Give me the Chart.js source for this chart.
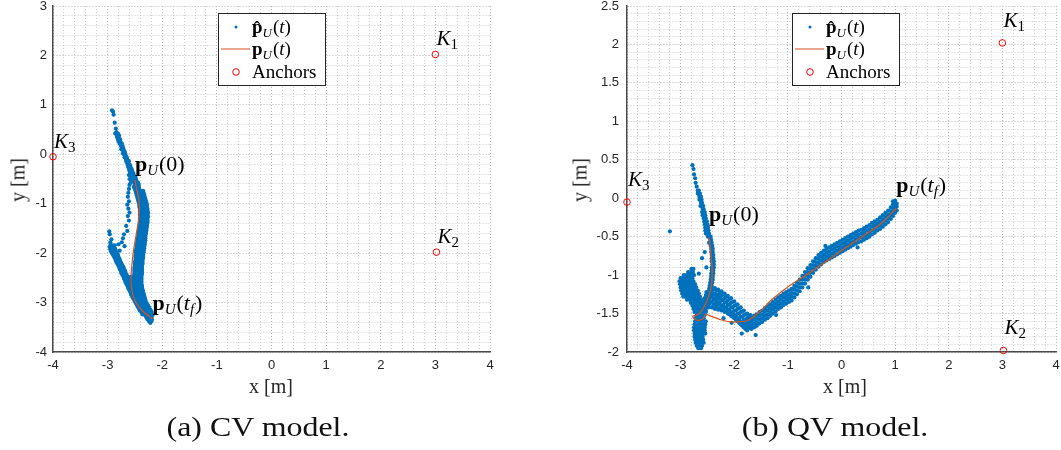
<!DOCTYPE html>
<html>
<head>
<meta charset="utf-8">
<script src="https://cdn.jsdelivr.net/npm/chart.js@4.4.0/dist/chart.umd.min.js"></script>
<style>
  body { margin: 0; background: #fff; width: 1061px; height: 450px; position: relative; overflow: hidden; font-family: "Liberation Serif", serif; color: #262626; }
  canvas { position: absolute; top: 0; }
  #cvChart { left: 0; }
  #qvChart { left: 530px; }
  .axis-title { position: absolute; font-size: 20px; white-space: nowrap; transform: translate(-50%, -50%); }
  .axis-title.vert { transform: translate(-50%, -50%) rotate(-90deg); }
  .caption { position: absolute; top: 427px; font-size: 28px; white-space: nowrap; transform: translate(-50%, -50%) scaleX(1.14); color: #111; }
</style>
</head>
<body>
<canvas id="cvChart" width="530" height="400"></canvas>
<canvas id="qvChart" width="531" height="400"></canvas>

<div class="axis-title" style="left:271px; top:386px;">x [m]</div>
<div class="axis-title vert" style="left:18px; top:180px;">y [m]</div>
<div class="axis-title" style="left:845px; top:386px;">x [m]</div>
<div class="axis-title vert" style="left:580px; top:180px;">y [m]</div>
<div class="caption" style="left:258px;">(a) CV model.</div>
<div class="caption" style="left:835px;">(b) QV model.</div>

<script>
// ---------- data ----------
// anchor positions [x, y] in metres and their indices
const anchors = [[3.0, 2.02], [3.02, -1.98], [-4.0, -0.05]];
const anchorIds = ['1', '2', '3'];

// tick labels
const cvXTicks = [-4, -3, -2, -1, 0, 1, 2, 3, 4];
const cvYTicks = [-4, -3, -2, -1, 0, 1, 2, 3];
const qvXTicks = [-4, -3, -2, -1, 0, 1, 2, 3, 4];
const qvYTicks = [-2, -1.5, -1, -0.5, 0, 0.5, 1, 1.5, 2, 2.5];

// true trajectory p_U(t), CV run
const cvTruth = [
  [-2.50, -0.52], [-2.47, -0.70], [-2.43, -0.90], [-2.42, -1.12], [-2.44, -1.38],
  [-2.48, -1.64], [-2.52, -1.90], [-2.55, -2.18], [-2.57, -2.45], [-2.57, -2.65],
  [-2.54, -2.84], [-2.47, -3.02], [-2.35, -3.18], [-2.18, -3.33]
];

// estimated positions, CV run: each row is [y, x1, x2, ...]
const cvEstRows = [
  // upper tail
  [0.89, -2.92], [0.86, -2.90], [0.80, -2.89], [0.64, -2.87], [0.52, -2.85], [0.45, -2.84],
  [0.42, -2.84, -2.81, -2.86], [0.38, -2.82, -2.79], [0.35, -2.80, -2.83], [0.30, -2.79, -2.81, -2.77],
  [0.26, -2.77, -2.80], [0.22, -2.76, -2.78, -2.74], [0.18, -2.76, -2.73], [0.14, -2.74, -2.72],
  [0.10, -2.73, -2.71, -2.75], [0.06, -2.71, -2.69], [0.02, -2.70, -2.68, -2.72], [-0.02, -2.69, -2.67],
  [-0.06, -2.67, -2.65, -2.69], [-0.10, -2.66, -2.64], [-0.14, -2.63, -2.66, -2.61], [-0.18, -2.62, -2.64],
  [-0.22, -2.61, -2.63, -2.59], [-0.26, -2.60, -2.58, -2.62], [-0.30, -2.59, -2.61, -2.56],
  [-0.34, -2.57, -2.60, -2.55], [-0.38, -2.56, -2.59, -2.53], [-0.42, -2.55, -2.58, -2.52, -2.61],
  [-0.46, -2.54, -2.57, -2.51, -2.49], [-0.50, -2.53, -2.56, -2.50, -2.48, -2.60],
  [-0.54, -2.52, -2.55, -2.49, -2.47], [-0.58, -2.51, -2.48, -2.46, -2.58, -2.44],
  [-0.62, -2.50, -2.47, -2.45, -2.60, -2.43], [-0.66, -2.48, -2.45, -2.43, -2.52],
  [-0.70, -2.47, -2.44, -2.42, -2.61, -2.50],
  // right-hand band
  [-0.74, -2.49, -2.44, -2.40, -2.35], [-0.78, -2.48, -2.43, -2.39, -2.34],
  [-0.82, -2.47, -2.42, -2.38, -2.33], [-0.86, -2.46, -2.41, -2.37, -2.32],
  [-0.90, -2.45, -2.40, -2.36, -2.31], [-0.94, -2.44, -2.39, -2.35, -2.30],
  [-0.98, -2.43, -2.38, -2.34, -2.29], [-1.02, -2.42, -2.37, -2.33, -2.28],
  [-1.06, -2.42, -2.37, -2.32, -2.28], [-1.10, -2.41, -2.36, -2.32, -2.27],
  [-1.14, -2.41, -2.36, -2.31, -2.27], [-1.18, -2.40, -2.35, -2.31, -2.26],
  [-1.22, -2.41, -2.36, -2.31, -2.27], [-1.26, -2.40, -2.35, -2.31, -2.26],
  [-1.30, -2.41, -2.36, -2.31, -2.27], [-1.34, -2.40, -2.36, -2.31, -2.27],
  [-1.38, -2.41, -2.36, -2.32, -2.27], [-1.42, -2.41, -2.37, -2.32, -2.28],
  [-1.46, -2.42, -2.37, -2.33, -2.28], [-1.50, -2.42, -2.37, -2.33, -2.29],
  [-1.54, -2.43, -2.38, -2.34, -2.29], [-1.58, -2.43, -2.38, -2.34, -2.30],
  [-1.62, -2.44, -2.39, -2.35, -2.30], [-1.66, -2.44, -2.39, -2.35, -2.31],
  [-1.70, -2.45, -2.40, -2.36, -2.31], [-1.74, -2.45, -2.40, -2.36, -2.31],
  [-1.78, -2.46, -2.41, -2.37, -2.32], [-1.82, -2.46, -2.41, -2.37, -2.32],
  [-1.86, -2.47, -2.42, -2.38, -2.33], [-1.90, -2.47, -2.42, -2.38, -2.33],
  [-1.94, -2.48, -2.43, -2.39, -2.34], [-1.98, -2.48, -2.43, -2.39, -2.34],
  [-2.02, -2.48, -2.44, -2.39, -2.35], [-2.06, -2.49, -2.44, -2.40, -2.35],
  [-2.10, -2.49, -2.44, -2.40, -2.35], [-2.14, -2.49, -2.45, -2.40, -2.36],
  [-2.18, -2.50, -2.45, -2.41, -2.36], [-2.22, -2.50, -2.45, -2.41, -2.36],
  [-2.26, -2.50, -2.46, -2.41, -2.37], [-2.30, -2.51, -2.46, -2.42, -2.37],
  [-2.34, -2.51, -2.46, -2.42, -2.37], [-2.38, -2.51, -2.46, -2.42, -2.37],
  [-2.42, -2.51, -2.47, -2.42, -2.37], [-2.46, -2.52, -2.47, -2.43, -2.38],
  [-2.50, -2.52, -2.47, -2.43, -2.38], [-2.54, -2.52, -2.48, -2.43, -2.38],
  [-2.58, -2.52, -2.48, -2.43, -2.38], [-2.62, -2.52, -2.48, -2.43, -2.38],
  [-2.66, -2.52, -2.47, -2.42, -2.37], [-2.70, -2.51, -2.47, -2.42, -2.37],
  [-2.74, -2.51, -2.46, -2.41, -2.36], [-2.78, -2.50, -2.45, -2.40, -2.35],
  [-2.82, -2.49, -2.44, -2.39, -2.34], [-2.86, -2.48, -2.43, -2.38, -2.33],
  [-2.90, -2.47, -2.42, -2.37, -2.32], [-2.94, -2.46, -2.41, -2.36, -2.31],
  [-2.98, -2.45, -2.40, -2.35, -2.30], [-3.02, -2.44, -2.38, -2.33, -2.28],
  [-3.06, -2.42, -2.36, -2.31, -2.26], [-3.10, -2.40, -2.34, -2.29, -2.24],
  [-3.14, -2.38, -2.32, -2.27, -2.22], [-3.18, -2.36, -2.30, -2.25, -2.20],
  [-3.22, -2.34, -2.28, -2.23, -2.19], [-3.26, -2.31, -2.26, -2.22, -2.18],
  [-3.30, -2.29, -2.24, -2.20], [-3.34, -2.27, -2.22, -2.19], [-3.38, -2.24, -2.20], [-3.41, -2.22],
  // left lobe
  [-1.56, -2.97], [-1.62, -2.96], [-1.72, -2.93], [-1.78, -2.95],
  [-1.84, -2.95, -2.91, -2.87], [-1.88, -2.96, -2.92, -2.88], [-1.92, -2.95, -2.90, -2.86],
  [-1.96, -2.94, -2.89, -2.85], [-2.00, -2.92, -2.88, -2.83], [-2.04, -2.90, -2.86, -2.81],
  [-2.08, -2.88, -2.84, -2.80], [-2.12, -2.86, -2.82, -2.78], [-2.16, -2.85, -2.81, -2.77],
  [-2.20, -2.83, -2.79, -2.75], [-2.24, -2.81, -2.77, -2.73], [-2.28, -2.79, -2.75, -2.71],
  [-2.32, -2.78, -2.74, -2.70], [-2.36, -2.76, -2.72, -2.68], [-2.40, -2.75, -2.71, -2.67],
  [-2.44, -2.73, -2.69, -2.65], [-2.48, -2.71, -2.67, -2.63, -2.58], [-2.52, -2.70, -2.66, -2.61, -2.57],
  [-2.56, -2.68, -2.64, -2.59, -2.55], [-2.60, -2.67, -2.62, -2.58, -2.55], [-2.64, -2.65, -2.61, -2.56],
  [-2.68, -2.63, -2.59, -2.55], [-2.72, -2.62, -2.58, -2.54], [-2.76, -2.60, -2.56, -2.52],
  [-2.80, -2.58, -2.54, -2.51], [-2.84, -2.57, -2.53], [-2.88, -2.55, -2.51], [-2.92, -2.53, -2.49],
  [-2.96, -2.51, -2.47], [-3.00, -2.49, -2.45], [-3.04, -2.47], [-3.08, -2.45], [-3.12, -2.43],
  [-3.16, -2.41], [-3.20, -2.38], [-3.24, -2.36],
  // thin strand left of the path
  [-0.78, -2.62], [-0.86, -2.63], [-0.95, -2.61], [-1.02, -2.64], [-1.10, -2.62],
  [-1.18, -2.60], [-1.25, -2.63], [-1.34, -2.61], [-1.45, -2.66], [-1.55, -2.64],
  [-1.62, -2.70], [-1.70, -2.72], [-1.78, -2.74], [-1.86, -2.69], [-1.82, -2.80], [-1.95, -2.78]
];

// true trajectory p_U(t), QV run
const qvTruth = [
  [-2.47, -0.51], [-2.43, -0.76], [-2.41, -0.97], [-2.44, -1.19], [-2.53, -1.37],
  [-2.65, -1.50], [-2.78, -1.54], [-2.68, -1.59], [-2.59, -1.57], [-2.53, -1.51],
  [-2.45, -1.53], [-2.25, -1.58], [-2.03, -1.61], [-1.75, -1.59], [-1.50, -1.46],
  [-1.32, -1.33], [-0.95, -1.13], [-0.57, -0.96], [-0.20, -0.78], [0.17, -0.60],
  [0.54, -0.43], [0.79, -0.30], [1.02, -0.13]
];

// estimated positions, QV run: rows are [y, x1, x2, ...]
const qvEstRows = [
  // upper tail
  [0.43, -2.78], [0.38, -2.76], [0.31, -2.75], [0.26, -2.73], [0.20, -2.72], [0.15, -2.70],
  [0.10, -2.68, -2.66], [0.06, -2.66, -2.64, -2.68], [0.02, -2.65, -2.62], [-0.02, -2.63, -2.61, -2.65],
  [-0.06, -2.62, -2.60], [-0.10, -2.61, -2.58, -2.63], [-0.14, -2.59, -2.57], [-0.18, -2.58, -2.55, -2.60],
  [-0.22, -2.56, -2.54, -2.59], [-0.26, -2.55, -2.53, -2.57], [-0.30, -2.54, -2.51, -2.56],
  [-0.34, -2.53, -2.50, -2.55], [-0.38, -2.52, -2.49, -2.54], [-0.42, -2.51, -2.48, -2.54],
  [-0.46, -2.50, -2.47, -2.53], [-0.43, -3.20],
  // strand below the start point
  [-0.50, -2.46, -2.44, -2.49], [-0.54, -2.45, -2.43], [-0.58, -2.44, -2.42, -2.47], [-0.62, -2.44, -2.41],
  [-0.66, -2.43, -2.40], [-0.70, -2.43, -2.40, -2.55], [-0.74, -2.42, -2.39],
  [-0.78, -2.42, -2.39, -2.60], [-0.82, -2.42, -2.38], [-0.86, -2.41, -2.38],
  [-0.90, -2.42, -2.38, -2.52], [-0.94, -2.42, -2.39], [-0.98, -2.43, -2.39, -2.66],
  [-1.02, -2.43, -2.40], [-1.06, -2.44, -2.40], [-1.10, -2.45, -2.41], [-1.14, -2.46, -2.42],
  [-1.18, -2.47, -2.43], [-1.22, -2.48, -2.44, -2.52], [-1.26, -2.49, -2.45, -2.53],
  // left cluster
  [-0.92, -2.80, -2.76], [-0.96, -2.86, -2.81, -2.77],
  [-1.00, -2.94, -2.89, -2.84, -2.79, -2.75],
  [-1.04, -3.00, -2.96, -2.92, -2.87, -2.82, -2.78],
  [-1.08, -3.02, -2.98, -2.94, -2.90, -2.85, -2.80, -2.76],
  [-1.12, -3.01, -2.97, -2.93, -2.88, -2.83, -2.78, -2.73],
  [-1.16, -3.00, -2.96, -2.91, -2.86, -2.81, -2.76, -2.71],
  [-1.20, -2.99, -2.94, -2.89, -2.84, -2.78, -2.73, -2.68],
  [-1.24, -2.97, -2.92, -2.87, -2.82, -2.76, -2.71, -2.66],
  [-1.28, -2.95, -2.90, -2.85, -2.79, -2.74, -2.69, -2.64],
  [-1.32, -2.88, -2.83, -2.77, -2.72, -2.67, -2.62],
  [-1.36, -2.81, -2.75, -2.70, -2.65, -2.60],
  [-1.40, -2.78, -2.73, -2.68, -2.63, -2.58],
  [-1.44, -2.76, -2.71, -2.66, -2.61], [-1.48, -2.74, -2.69, -2.64, -2.58, -2.53],
  // crossing
  [-1.30, -2.55, -2.50, -2.46], [-1.34, -2.56, -2.51, -2.47], [-1.38, -2.56, -2.52, -2.47],
  [-1.42, -2.57, -2.52, -2.48], [-1.46, -2.57, -2.53],
  // bottom blob
  [-1.52, -2.70, -2.65, -2.60, -2.55], [-1.56, -2.72, -2.67, -2.62, -2.57],
  [-1.60, -2.73, -2.68, -2.63, -2.58, -2.53], [-1.64, -2.74, -2.69, -2.64, -2.59, -2.54],
  [-1.68, -2.75, -2.70, -2.65, -2.60, -2.55], [-1.72, -2.75, -2.70, -2.65, -2.60, -2.55],
  [-1.76, -2.74, -2.69, -2.64, -2.59, -2.54], [-1.80, -2.74, -2.69, -2.64, -2.59],
  [-1.84, -2.73, -2.68, -2.63, -2.58], [-1.88, -2.72, -2.67, -2.62, -2.57],
  [-1.92, -2.70, -2.65, -2.60], [-1.95, -2.67, -2.62]
];

// estimated positions, QV run: columns are [x, y1, y2, ...]
const qvEstCols = [
  // hump after the crossing
  [-2.42, -1.16, -1.22, -1.28, -1.35, -1.42], [-2.39, -1.19, -1.25, -1.32, -1.39],
  [-2.36, -1.17, -1.24, -1.30, -1.37, -1.44], [-2.33, -1.20, -1.27, -1.34, -1.41],
  [-2.30, -1.19, -1.25, -1.31, -1.38, -1.45], [-2.27, -1.22, -1.29, -1.36, -1.43],
  [-2.24, -1.21, -1.27, -1.33, -1.40, -1.46], [-2.21, -1.25, -1.32, -1.39, -1.45],
  [-2.18, -1.24, -1.30, -1.36, -1.42, -1.48], [-2.15, -1.28, -1.35, -1.42, -1.47],
  [-2.12, -1.27, -1.33, -1.39, -1.45, -1.50], [-2.09, -1.31, -1.38, -1.45, -1.51],
  [-2.06, -1.30, -1.36, -1.42, -1.48, -1.53], [-2.03, -1.35, -1.42, -1.49, -1.54],
  [-2.00, -1.34, -1.40, -1.46, -1.52, -1.56], [-1.97, -1.39, -1.46, -1.53, -1.58],
  [-1.94, -1.38, -1.44, -1.50, -1.56, -1.60], [-1.91, -1.43, -1.50, -1.57, -1.62],
  [-1.88, -1.42, -1.48, -1.54, -1.60, -1.64], [-1.85, -1.47, -1.54, -1.61, -1.66],
  [-1.82, -1.46, -1.52, -1.58, -1.63, -1.68], [-1.79, -1.51, -1.58, -1.65, -1.70],
  [-1.76, -1.50, -1.56, -1.62, -1.67, -1.72], [-1.73, -1.54, -1.61, -1.67],
  [-1.70, -1.52, -1.58, -1.64, -1.69],
  // rising band to the end point
  [-1.68, -1.70, -1.65, -1.60, -1.55], [-1.63, -1.68, -1.63, -1.58, -1.53],
  [-1.58, -1.66, -1.61, -1.56, -1.51], [-1.53, -1.63, -1.58, -1.53, -1.48],
  [-1.48, -1.61, -1.56, -1.51, -1.46], [-1.43, -1.58, -1.53, -1.48, -1.43],
  [-1.38, -1.56, -1.51, -1.46, -1.41], [-1.33, -1.53, -1.48, -1.43, -1.38],
  [-1.28, -1.50, -1.45, -1.40, -1.35], [-1.23, -1.47, -1.42, -1.37, -1.32],
  [-1.18, -1.44, -1.39, -1.34, -1.29], [-1.13, -1.42, -1.37, -1.32, -1.27],
  [-1.08, -1.39, -1.34, -1.29, -1.24], [-1.03, -1.37, -1.32, -1.27, -1.22],
  [-0.98, -1.35, -1.30, -1.25, -1.20], [-0.93, -1.33, -1.28, -1.23, -1.18],
  [-0.88, -1.29, -1.24, -1.19, -1.14], [-0.83, -1.25, -1.20, -1.15, -1.10],
  [-0.78, -1.21, -1.16, -1.11, -1.06], [-0.73, -1.16, -1.11, -1.06, -1.01],
  [-0.68, -1.11, -1.06, -1.01, -0.96], [-0.63, -1.06, -1.01, -0.96, -0.91],
  [-0.58, -1.02, -0.97, -0.92, -0.87], [-0.53, -0.97, -0.92, -0.87, -0.82],
  [-0.48, -0.93, -0.88, -0.83, -0.78], [-0.43, -0.89, -0.84, -0.79, -0.74],
  [-0.38, -0.86, -0.81, -0.76, -0.71], [-0.33, -0.83, -0.78, -0.73, -0.68],
  [-0.28, -0.81, -0.76, -0.71, -0.66], [-0.23, -0.79, -0.74, -0.69, -0.64],
  [-0.18, -0.77, -0.72, -0.67, -0.62], [-0.13, -0.75, -0.70, -0.65, -0.60],
  [-0.08, -0.73, -0.68, -0.63, -0.58], [-0.03, -0.71, -0.66, -0.61, -0.56],
  [0.02, -0.69, -0.64, -0.59, -0.54], [0.07, -0.67, -0.62, -0.57, -0.52],
  [0.12, -0.65, -0.60, -0.55, -0.50], [0.17, -0.63, -0.58, -0.53, -0.48],
  [0.22, -0.61, -0.56, -0.51, -0.46], [0.27, -0.59, -0.54, -0.49, -0.44],
  [0.32, -0.57, -0.52, -0.47, -0.42], [0.37, -0.56, -0.51, -0.46, -0.41],
  [0.42, -0.54, -0.49, -0.44, -0.39], [0.47, -0.52, -0.47, -0.42, -0.37],
  [0.52, -0.50, -0.45, -0.40, -0.35], [0.57, -0.47, -0.42, -0.37, -0.32],
  [0.62, -0.45, -0.40, -0.35, -0.30], [0.67, -0.42, -0.37, -0.33, -0.28],
  [0.72, -0.40, -0.35, -0.30, -0.25], [0.77, -0.37, -0.32, -0.27, -0.22],
  [0.82, -0.34, -0.29, -0.24, -0.19], [0.87, -0.31, -0.26, -0.21, -0.16],
  [0.92, -0.27, -0.22, -0.17, -0.12], [0.96, -0.23, -0.18, -0.13, -0.08, -0.04],
  [1.00, -0.19, -0.14, -0.10, -0.06, -0.03], [1.03, -0.16, -0.11, -0.07],
  // stray points
  [-1.60, -1.78], [-1.86, -1.76], [-1.22, -1.52], [-0.62, -1.16], [0.30, -0.64],
  [-0.30, -0.62], [-2.20, -1.56], [-2.05, -1.62]
];

// ---------- helpers ----------
const BLUE = '#0072BD';
const ORANGE = '#D95319';
const SERIF = '"Liberation Serif", serif';

function rowsToPoints(rows) {
  const pts = [];
  rows.forEach(r => r.slice(1).forEach(x => pts.push({ x: x, y: r[0] })));
  return pts;
}
function colsToPoints(cols) {
  const pts = [];
  cols.forEach(c => c.slice(1).forEach(y => pts.push({ x: c[0], y: y })));
  return pts;
}
const toXY = arr => arr.map(p => ({ x: p[0], y: p[1] }));

// draw a run of text pieces with different fonts / baseline shifts
function drawMath(ctx, x, y, parts) {
  let cx = x;
  parts.forEach(p => {
    ctx.font = p.f;
    ctx.fillText(p.t, cx, y + (p.dy || 0));
    cx += ctx.measureText(p.t).width + (p.gap || 0);
  });
}
const rm = s => `${s}px ${SERIF}`;
const it = s => `italic ${s}px ${SERIF}`;
const bf = s => `bold ${s}px ${SERIF}`;

const kLabel = i => [{ t: 'K', f: it(21) }, { t: i, f: rm(15), dy: 4 }];
const startLabel = [{ t: 'p', f: bf(22) }, { t: 'U', f: it(15), dy: 4, gap: 1 }, { t: '(0)', f: rm(22) }];
const endLabel = [{ t: 'p', f: bf(22) }, { t: 'U', f: it(15), dy: 4, gap: 1 }, { t: '(', f: rm(22) },
  { t: 't', f: it(22) }, { t: 'f', f: it(15), dy: 4, gap: 1 }, { t: ')', f: rm(22) }];

function drawLegend(ctx, L, T) {
  const W = 107, H = 72;
  ctx.fillStyle = '#fff';
  ctx.fillRect(L, T, W, H);
  ctx.strokeStyle = '#262626';
  ctx.lineWidth = 1;
  ctx.strokeRect(L + 0.5, T + 0.5, W, H);

  const mx = L + 18, tx = L + 34;
  // estimate marker
  ctx.fillStyle = BLUE;
  ctx.beginPath(); ctx.arc(mx, T + 14, 1.5, 0, Math.PI * 2); ctx.fill();
  // trajectory sample
  ctx.strokeStyle = '#E4896A';
  ctx.lineWidth = 1.5;
  ctx.beginPath(); ctx.moveTo(L + 3, T + 36); ctx.lineTo(L + 32, T + 36); ctx.stroke();
  // anchor marker
  ctx.strokeStyle = '#FF0000';
  ctx.lineWidth = 1;
  ctx.beginPath(); ctx.arc(mx, T + 59, 3.3, 0, Math.PI * 2); ctx.stroke();

  ctx.fillStyle = '#000';
  drawMath(ctx, tx, T + 20, [{ t: 'p\u0302', f: bf(19) }, { t: 'U', f: it(13), dy: 4, gap: 1 },
    { t: '(', f: rm(19) }, { t: 't', f: it(19) }, { t: ')', f: rm(19) }]);
  drawMath(ctx, tx, T + 42, [{ t: 'p', f: bf(19) }, { t: 'U', f: it(13), dy: 4, gap: 1 },
    { t: '(', f: rm(19) }, { t: 't', f: it(19) }, { t: ')', f: rm(19) }]);
  drawMath(ctx, tx, T + 65, [{ t: 'Anchors', f: rm(19) }]);
}

// labels for anchors, start/end points and the legend box
const annotate = {
  id: 'annotate',
  afterDraw(chart, args, opts) {
    const { ctx, chartArea } = chart;
    const xs = chart.scales.x, ys = chart.scales.y;
    ctx.save();
    ctx.fillStyle = '#000';
    ctx.textBaseline = 'alphabetic';
    anchors.forEach((a, i) => {
      drawMath(ctx, xs.getPixelForValue(a[0]) + 1, ys.getPixelForValue(a[1]) - opts.lift, kLabel(anchorIds[i]));
    });
    const first = opts.path[0], last = opts.path[opts.path.length - 1];
    drawMath(ctx, xs.getPixelForValue(first[0]), ys.getPixelForValue(first[1]) - opts.lift, startLabel);
    drawMath(ctx, xs.getPixelForValue(last[0]), ys.getPixelForValue(last[1]) - opts.lift, endLabel);
    drawLegend(ctx, chartArea.left + 165, chartArea.top + 7);
    ctx.restore();
  }
};

const isMember = (v, list) => list.some(t => Math.abs(t - v) < 1e-6);

function axis(min, max, step, labels, size, padding) {
  return {
    type: 'linear',
    min: min,
    max: max,
    ticks: {
      stepSize: step,
      autoSkip: false,
      maxRotation: 0,
      padding: padding,
      color: '#262626',
      font: { family: '"Liberation Sans", Arial, sans-serif', size: 13 },
      callback: v => (isMember(v, labels) ? String(Math.round(v * 10) / 10) : '')
    },
    grid: {
      drawTicks: false,
      lineWidth: 1,
      color: c => (isMember(c.tick.value, labels) ? '#b4b4b4' : '#cdcdcd')
    },
    border: { display: true, color: '#4a4a4a', width: 1.5, dash: [1, 2] },
    afterFit: s => {
      if (s.isHorizontal()) s.height = size; else s.width = size;
      s.paddingLeft = s.paddingRight = s.paddingTop = s.paddingBottom = 0;
    }
  };
}

function makeChart(id, est, truth, xr, yr, padRight, yWidth, lift) {
  return new Chart(document.getElementById(id), {
    type: 'scatter',
    data: {
      datasets: [
        {
          label: 'Anchors',
          data: toXY(anchors),
          pointRadius: 3.3,
          pointBorderWidth: 1,
          pointBorderColor: '#FF0000',
          pointBackgroundColor: 'rgba(0,0,0,0)',
          clip: false
        },
        {
          label: 'p_U(t)',
          data: toXY(truth),
          showLine: true,
          borderColor: ORANGE,
          borderWidth: 1.2,
          pointRadius: 0,
          tension: 0.2
        },
        {
          label: 'p^_U(t)',
          data: est,
          pointRadius: 2.1,
          pointBorderWidth: 0,
          pointBackgroundColor: BLUE
        }
      ]
    },
    options: {
      responsive: false,
      animation: false,
      layout: { padding: { left: 0, top: 6, right: padRight, bottom: 26 } },
      plugins: {
        legend: { display: false },
        tooltip: { enabled: false },
        annotate: { path: truth, lift: lift }
      },
      scales: {
        x: axis(xr[0], xr[1], 0.2, xr[2], 22, 6),
        y: axis(yr[0], yr[1], yr[3], yr[2], yWidth, yr[4])
      }
    },
    plugins: [annotate]
  });
}

makeChart('cvChart', rowsToPoints(cvEstRows), cvTruth,
  [-4, 4, cvXTicks], [-4, 3, cvYTicks, 0.2, 6], 40, 53, 9);
makeChart('qvChart', rowsToPoints(qvEstRows).concat(colsToPoints(qvEstCols)), qvTruth,
  [-4, 4, qvXTicks], [-2, 2.5, qvYTicks, 0.1, 8], -1, 97, 16);
</script>
</body>
</html>
